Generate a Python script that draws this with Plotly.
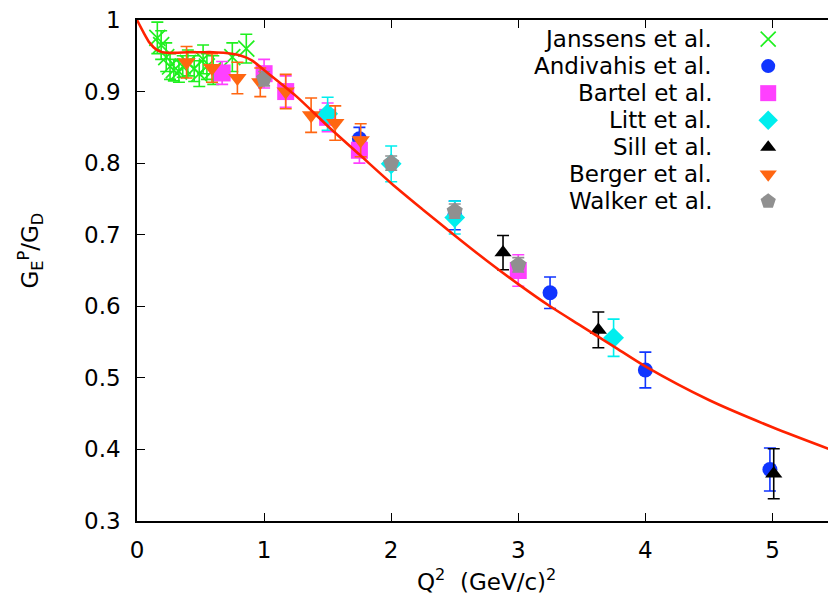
import plotly.graph_objects as go

# ---------------- data ----------------
jan_x = [0.16, 0.19, 0.23, 0.26, 0.29, 0.33, 0.36, 0.40, 0.45, 0.49, 0.52, 0.55, 0.60, 0.75, 0.86]
jan_y = [0.975, 0.965, 0.948, 0.935, 0.930, 0.928, 0.935, 0.940, 0.932, 0.925, 0.945, 0.935, 0.930, 0.948, 0.960]
jan_e = [0.022, 0.020, 0.020, 0.018, 0.015, 0.015, 0.015, 0.018, 0.018, 0.018, 0.020, 0.018, 0.020, 0.020, 0.020]

and_x = [1.75, 2.50, 3.25, 4.00, 4.98]
and_y = [0.834, 0.727, 0.619, 0.511, 0.372]
and_e = [0.016, 0.020, 0.022, 0.025, 0.030]

bar_x = [0.67, 1.00, 1.17, 1.50, 1.75, 3.00]
bar_y = [0.926, 0.925, 0.900, 0.864, 0.818, 0.650]
bar_e = [0.016, 0.020, 0.022, 0.020, 0.018, 0.022]

lit_x = [1.50, 2.00, 2.50, 3.75]
lit_y = [0.869, 0.799, 0.724, 0.556]
lit_e = [0.023, 0.025, 0.023, 0.026]

sil_x = [2.88, 3.63, 5.01]
sil_y = [0.675, 0.567, 0.366]
sil_e = [0.024, 0.025, 0.035]

ber_x = [0.39, 0.59, 0.79, 0.97, 1.17, 1.37, 1.56, 1.76]
ber_y = [0.941, 0.933, 0.919, 0.913, 0.900, 0.867, 0.856, 0.832]
ber_e = [0.022, 0.020, 0.022, 0.020, 0.024, 0.024, 0.024, 0.023]

wal_x = [1.00, 2.00, 2.50, 3.00]
wal_y = [0.918, 0.800, 0.733, 0.658]
wal_e = [0.010, 0.010, 0.010, 0.010]

fit_x = [0.0, 0.05, 0.10, 0.15, 0.20, 0.30, 0.40, 0.50, 0.60, 0.70, 0.80, 0.90, 1.00,
         1.25, 1.50, 1.75, 2.00, 2.25, 2.50, 2.75, 3.00, 3.25, 3.50, 3.75, 4.00, 4.50, 5.00, 5.50]
fit_y = [1.000, 0.983, 0.968, 0.959, 0.955, 0.954, 0.955, 0.955, 0.955, 0.954, 0.951, 0.944, 0.930,
         0.894, 0.852, 0.812, 0.772, 0.735, 0.699, 0.664, 0.631, 0.600, 0.572, 0.544, 0.516, 0.469, 0.431, 0.397]

series_names = ["Janssens et al.", "Andivahis et al.", "Bartel et al.", "Litt et al.",
                "Sill et al.", "Berger et al.", "Walker et al."]

y_ticks = [0.3, 0.4, 0.5, 0.6, 0.7, 0.8, 0.9, 1.0]
y_tick_text = ["0.3", "0.4", "0.5", "0.6", "0.7", "0.8", "0.9", "1"]
x_ticks = [0, 1, 2, 3, 4, 5]

# ---------------- styles ----------------
FONT = "DejaVu Sans, Liberation Sans, Arial, sans-serif"
FS = 23
styles = [
    dict(color="#1ff01f", symbol="x-thin-open", size=16, lw=1.7),
    dict(color="#1035ff", symbol="circle", size=15, lw=0),
    dict(color="#ff40ff", symbol="square", size=17, lw=0),
    dict(color="#00eeee", symbol="diamond", size=16, lw=0),
    dict(color="#000000", symbol="triangle-up", size=15, lw=0),
    dict(color="#ff6611", symbol="triangle-down", size=16, lw=0),
    dict(color="#909090", symbol="pentagon", size=17, lw=0),
]
data = [(jan_x, jan_y, jan_e), (and_x, and_y, and_e), (bar_x, bar_y, bar_e),
        (lit_x, lit_y, lit_e), (sil_x, sil_y, sil_e), (ber_x, ber_y, ber_e),
        (wal_x, wal_y, wal_e)]

fig = go.Figure()
for name, (xs, ys, es), st in zip(series_names, data, styles):
    fig.add_trace(go.Scatter(
        x=xs, y=ys, mode="markers", name=name, showlegend=False,
        error_y=dict(type="data", array=es, visible=True, color=st["color"],
                     thickness=1.6, width=6),
        marker=dict(symbol=st["symbol"], size=st["size"], color=st["color"],
                    line=dict(color=st["color"], width=st["lw"])),
    ))

fig.add_trace(go.Scatter(x=fit_x, y=fit_y, mode="lines", showlegend=False,
                         line=dict(color="#ff2200", width=2.6, shape="spline", smoothing=0.8)))

# ---------------- custom gnuplot-style key (text then symbol) ----------------
KEY_TEXT_X = 0.826
KEY_SYM_X = 0.903
KEY_Y0 = 0.962
KEY_DY = 0.0540
annotations = []
for i, (name, st) in enumerate(zip(series_names, styles)):
    yk = KEY_Y0 - i * KEY_DY
    annotations.append(dict(x=KEY_TEXT_X, y=yk, xref="paper", yref="paper", text=name,
                            showarrow=False, xanchor="right", yanchor="middle",
                            font=dict(family=FONT, size=FS, color="black")))
    fig.add_trace(go.Scatter(x=[KEY_SYM_X], y=[yk], xaxis="x2", yaxis="y2", mode="markers",
                             showlegend=False, hoverinfo="skip",
                             marker=dict(symbol=st["symbol"], size=st["size"] - 1, color=st["color"],
                                         line=dict(color=st["color"], width=st["lw"]))))

annotations += [
    dict(x=0.5, y=-0.118, xref="paper", yref="paper", showarrow=False,
         xanchor="center", yanchor="middle",
         text="Q<sup>2</sup>  (GeV/c)<sup>2</sup>",
         font=dict(family=FONT, size=FS, color="black")),
    dict(x=-0.153, y=0.54, xref="paper", yref="paper", showarrow=False,
         xanchor="center", yanchor="middle", textangle=-90,
         text="G<sub>E</sub><sup>P</sup>/G<sub>D</sub>",
         font=dict(family=FONT, size=FS, color="black")),
]

axis_common = dict(showline=True, linecolor="black", linewidth=1.5, mirror="ticks",
                   ticks="inside", ticklen=8, tickwidth=1.2, tickcolor="black",
                   showgrid=False, zeroline=False, ticklabeloverflow="allow",
                   tickfont=dict(family=FONT, size=FS, color="black"))

# page body has an 8px margin, so the figure is sized to fill the rest of the window
fig.update_layout(
    width=828, height=599,
    margin=dict(l=129, r=0, t=12, b=86, autoexpand=False),
    paper_bgcolor="white", plot_bgcolor="white",
    showlegend=False,
    xaxis=dict(range=[0, 5.5], tickvals=x_ticks, ticklabelstandoff=8, **axis_common),
    yaxis=dict(range=[0.3, 1.0], tickvals=y_ticks, ticktext=y_tick_text,
               ticklabelstandoff=10, **axis_common),
    xaxis2=dict(range=[0, 1], overlaying="x", visible=False),
    yaxis2=dict(range=[0, 1], overlaying="y", visible=False),
    annotations=annotations,
)

fig.write_html("out.html")
